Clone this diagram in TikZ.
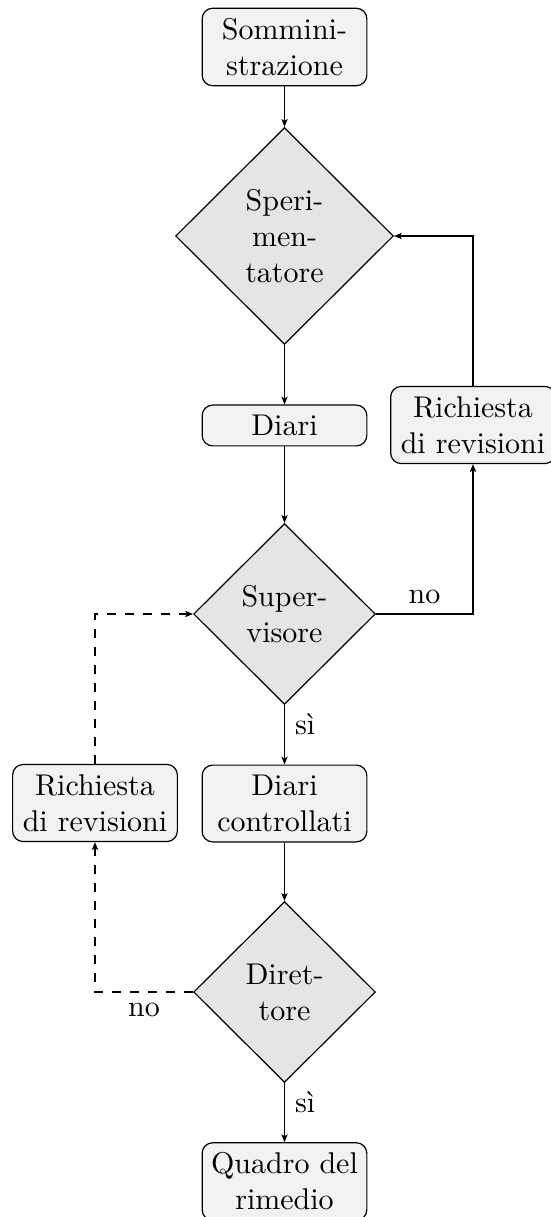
\documentclass[tikz,border=0pt]{standalone}
\usepackage{fontspec}
\usetikzlibrary{shapes.geometric,arrows.meta}
\begin{document}
\begin{tikzpicture}[x=0.33333pt,y=-0.33333pt,
  box/.style={rectangle, draw, fill=gray!10, rounded corners=3.5pt, text width=49.5pt, align=center, inner xsep=2.7pt, inner ysep=3.33pt},
  decision/.style={diamond, draw, fill=gray!20, aspect=1, inner sep=0pt, align=center},
  bigdec/.style={decision, minimum width=72.6pt, minimum height=72.3pt},
  smalldec/.style={decision, minimum width=60.6pt, minimum height=60.3pt},
  conn/.style={-{Stealth[length=2.6pt,width=2.1pt,inset=0.6pt]}},
  back/.style={conn, dashed}]
\useasboundingbox (0,0) rectangle (550,1217);
\node[box] (som) at (284.5,47) {Sommini-\\strazione};
\node[bigdec] (spe) at (284.5,236) {Speri-\\men-\\tatore};
\node[box] (diari) at (284.5,425.5) {Diari};
\node[box] (richR) at (473,425) {Richiesta\\di revisioni};
\node[smalldec] (sup) at (284.5,614) {Super-\\visore};
\node[box] (richL) at (95,803) {Richiesta\\di revisioni};
\node[box] (dc) at (284.5,803.5) {Diari\\controllati};
\node[smalldec] (dir) at (284.5,992) {Diret-\\tore};
\node[box] (quadro) at (284.5,1181.5) {Quadro del\\rimedio};

\draw[conn] (som) -- (spe);
\draw[conn] (spe) -- (diari);
\draw[conn] (diari) -- (sup);
\draw[conn] (sup) -- node[right, pos=0.33] {sì} (dc);
\draw[conn] (dc) -- (dir);
\draw[conn] (dir) -- node[right, pos=0.32] {sì} (quadro);
\draw[conn] (sup.east) -| node[above, pos=0.25] {no} (richR.south);
\draw[conn] (richR.north) |- (spe.east);
\draw[back] (dir.west) -| node[below, pos=0.25] {no} (richL.south);
\draw[back] (richL.north) |- (sup.west);
\end{tikzpicture}
\end{document}
